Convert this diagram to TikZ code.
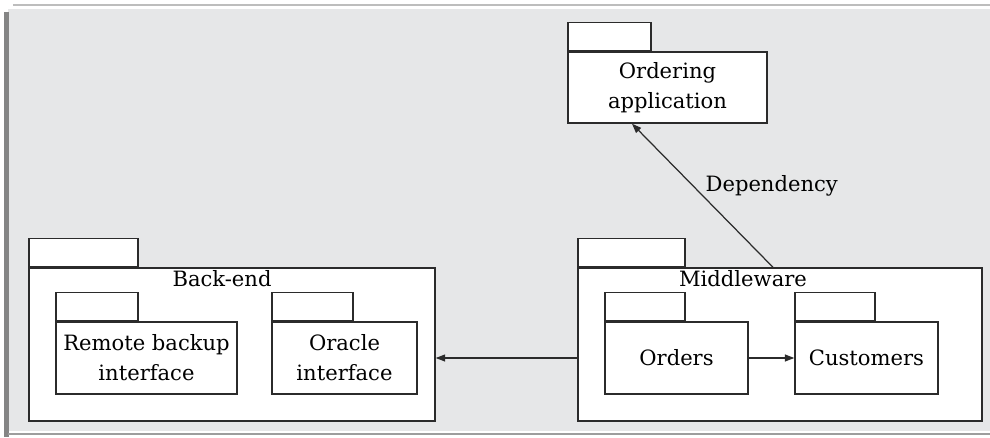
\documentclass[tikz,border=0pt]{standalone}
\usepackage{fontspec}
\setmainfont{DejaVu Serif}
\usetikzlibrary{positioning,arrows.meta}
\definecolor{pkPanel}{HTML}{E6E7E8}
\definecolor{pkLine}{HTML}{2B2B2B}
\definecolor{pkEdge}{HTML}{858585}
\definecolor{pkRule}{HTML}{BDBDBD}

\begin{document}
\begin{tikzpicture}[
  font=\fontsize{12}{17}\selectfont,
  pkg/.style={draw=pkLine, line width=0.8pt, fill=white, align=center, inner sep=0pt},
  tab/.style={draw=pkLine, line width=0.8pt, fill=white, anchor=south west,
              minimum height=0.56cm, inner sep=0pt},
  ptitle/.style={anchor=north, inner sep=1.5pt},
  dep/.style={-{Triangle[length=1.9mm,width=1.4mm]}, line width=0.7pt, draw=pkLine},
]
\useasboundingbox (0,0) rectangle (19.8,8.74);

% ── Panel behind the diagram ─────────────────────────────────────────────────
\fill[pkPanel] (0.16,0.12) rectangle (19.8,8.56);
\draw[pkRule, line width=1.2pt] (0.26,8.64) -- (19.8,8.64);
\fill[pkEdge] (0.08,0) rectangle (0.17,8.50);
\draw[pkEdge!80, line width=1.5pt] (0.16,0.06) -- (19.8,0.06);

% ── Packages: body nodes ─────────────────────────────────────────────────────
\node[pkg, minimum width=3.98cm, minimum height=1.42cm] (app) at (13.35,6.99) {Ordering\\application};
\node[pkg, minimum width=8.12cm, minimum height=3.06cm] (be)  at (4.64,1.85) {};
\node[pkg, minimum width=8.08cm, minimum height=3.06cm] (mw)  at (15.60,1.85) {};
\node[pkg, minimum width=3.62cm, minimum height=1.44cm] (rbi) at (2.93,1.58) {Remote backup\\interface};
\node[pkg, minimum width=2.90cm, minimum height=1.44cm] (ora) at (6.89,1.58) {Oracle\\interface};
\node[pkg, minimum width=2.86cm, minimum height=1.44cm] (ord) at (13.53,1.58) {Orders};
\node[pkg, minimum width=2.86cm, minimum height=1.44cm] (cus) at (17.33,1.58) {Customers};

% ── Package tabs ─────────────────────────────────────────────────────────────
\foreach \p/\w in {app/1.66, be/2.18, mw/2.14, rbi/1.64, ora/1.62, ord/1.60, cus/1.60}
  \node[tab, minimum width=\w cm] (\p-tab) at (\p.north west) {};

% ── Titles of the outer packages ─────────────────────────────────────────────
\node[ptitle] (be-title) at ([xshift=-2mm]be.north) {Back-end};
\node[ptitle] (mw-title) at ([xshift=-7.4mm]mw.north) {Middleware};

% ── Dependencies ─────────────────────────────────────────────────────────────
\draw[dep] (mw.west |- ord) -- (be.east |- ord);
\draw[dep] (ord) -- (cus);
\draw[dep] ([xshift=-1.4mm]mw.north) -- node[pos=0.57, right=1.3mm] (dep-label) {Dependency} ([xshift=-7.1mm]app.south);

\end{tikzpicture}
\end{document}
